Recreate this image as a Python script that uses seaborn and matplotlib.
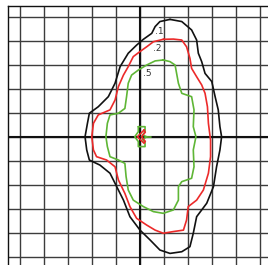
import matplotlib
matplotlib.use("Agg")
import matplotlib.pyplot as plt
import seaborn as sns
import pandas as pd

# contour outlines, in grid units (one grid square = 1)
level_labels = [".1", ".2", ".5"]

black_x = [1.25, 0.83, 0.63, 0.49, 0.14, -0.14, -0.49, -0.83, -1.04, -1.32, -1.74, -2.11,
           -2.19, -2.29, -2.22, -2.11, -1.67, -1.25, -0.97, -0.69, -0.42, 0.00, 0.42, 0.83,
           1.25, 1.74, 2.08, 2.22, 2.36, 2.78, 3.06, 3.19, 3.33, 3.40, 3.33, 3.26, 3.13,
           2.99, 2.71, 2.57, 2.43, 2.36, 2.15, 1.74]
black_y = [4.90, 4.81, 4.60, 4.32, 4.07, 3.83, 3.49, 2.93, 2.24, 1.68, 1.26, 0.99,
           0.57, 0.01, -0.54, -0.96, -1.17, -1.51, -2.07, -2.63, -3.32, -3.88, -4.29, -4.71,
           -4.85, -4.78, -4.57, -4.01, -3.32, -2.76, -2.07, -1.24, -0.54, 0.01, 0.43, 1.13, 1.68,
           2.31, 2.65, 3.14, 3.49, 4.04, 4.46, 4.81]

red_x = [0.97, 0.56, 0.28, 0.00, -0.28, -0.49, -0.69, -0.90, -1.04, -1.25, -1.74, -1.94,
         -2.01, -1.94, -1.81, -1.39, -1.04, -0.90, -0.63, -0.42, -0.14, 0.28, 0.63, 0.97,
         1.39, 1.81, 1.94, 2.01, 2.36, 2.64, 2.85, 2.94, 2.94, 2.85, 2.81, 2.71, 2.57,
         2.36, 2.15, 2.08, 1.94, 1.74, 1.39]
red_y = [4.07, 3.97, 3.76, 3.56, 3.35, 2.93, 2.58, 2.10, 1.54, 1.13, 0.92, 0.57,
         0.01, -0.54, -0.82, -0.96, -1.24, -1.79, -2.35, -2.90, -3.39, -3.67, -3.88, -4.01,
         -3.94, -3.88, -3.46, -2.90, -2.63, -2.21, -1.51, -0.82, -0.13, 0.57, 1.26, 1.82, 2.17,
         2.51, 2.86, 3.28, 3.76, 4.04, 4.08]

green_x = [0.97, 0.63, 0.28, -0.07, -0.35, -0.49, -0.56, -0.63, -0.90, -1.25, -1.36, -1.42,
           -1.36, -1.25, -0.90, -0.63, -0.58, -0.49, -0.28, 0.14, 0.56, 0.97, 1.39, 1.60,
           1.60, 1.74, 2.15, 2.25, 2.22, 2.33, 2.22, 2.25, 2.15, 1.74, 1.60, 1.50, 1.46, 1.25]
green_y = [3.21, 3.17, 3.00, 2.79, 2.58, 2.24, 1.68, 1.19, 0.99, 0.92, 0.57, 0.01,
           -0.40, -0.82, -0.96, -1.10, -1.65, -2.21, -2.63, -2.90, -3.11, -3.18, -3.04, -2.63,
           -2.07, -1.86, -1.72, -1.24, -0.54, 0.01, 0.43, 1.13, 1.68, 1.82, 2.24, 2.79, 3.00, 3.14]

# small shapes at the centre
core_green_x = [-0.07, 0.21, 0.21, 0.11, 0.28, 0.11, 0.21, 0.21, -0.07, -0.07, -0.22, -0.07]
core_green_y = [0.43, 0.43, 0.22, 0.08, 0.01, -0.10, -0.24, -0.40, -0.40, -0.19, 0.01, 0.22]
core_tick_x = [0.28, 0.45]
core_tick_y = [0.0, 0.0]
core_red_x = [0.17, -0.11, 0.17, 0.22, 0.06, 0.22]
core_red_y = [0.29, 0.01, -0.26, -0.18, 0.01, 0.20]

label_x = [0.79, 0.71, 0.29]
label_y = [4.38, 3.67, 2.65]

grid_ticks = list(range(-5, 6))

BLACK = "#111111"
RED = "#ec2a2a"
GREEN = "#5fb636"


def closed(xs, ys):
    return pd.DataFrame({"x": list(xs) + [xs[0]], "y": list(ys) + [ys[0]]})


def main():
    sns.set_style("white")
    fig = plt.figure(figsize=(2.68, 2.65), dpi=100)
    ax = fig.add_axes([8 / 268, 0, 260 / 268, 259 / 265])

    ax.set_xlim(-5.5, 5.333)
    ax.set_ylim(-5.333, 5.458)
    ax.set_xticks(grid_ticks)
    ax.set_yticks(grid_ticks)
    ax.tick_params(length=0, labelbottom=False, labelleft=False)
    ax.grid(True, color="#3c3c3c", linewidth=1.0)
    ax.axhline(0, color="#111111", linewidth=1.5)
    ax.axvline(0, color="#111111", linewidth=1.5)
    for side in ["right", "bottom"]:
        ax.spines[side].set_visible(False)
    for side in ["top", "left"]:
        ax.spines[side].set_color("#111111")
        ax.spines[side].set_linewidth(1.0)

    shapes = [
        (closed(black_x, black_y), BLACK),
        (closed(red_x, red_y), RED),
        (closed(green_x, green_y), GREEN),
        (closed(core_green_x, core_green_y), GREEN),
        (pd.DataFrame({"x": core_tick_x, "y": core_tick_y}), GREEN),
        (closed(core_red_x, core_red_y), RED),
    ]
    for df, col in shapes:
        sns.lineplot(data=df, x="x", y="y", sort=False, estimator=None,
                     color=col, linewidth=1.2, ax=ax)

    for lab, lx, ly in zip(level_labels, label_x, label_y):
        ax.text(lx, ly, lab, fontsize=6.5, color="#333333",
                ha="center", va="center")

    ax.set_xlabel("")
    ax.set_ylabel("")
    fig.savefig("out.png", dpi=100)
    plt.close(fig)


if __name__ == "__main__":
    main()
